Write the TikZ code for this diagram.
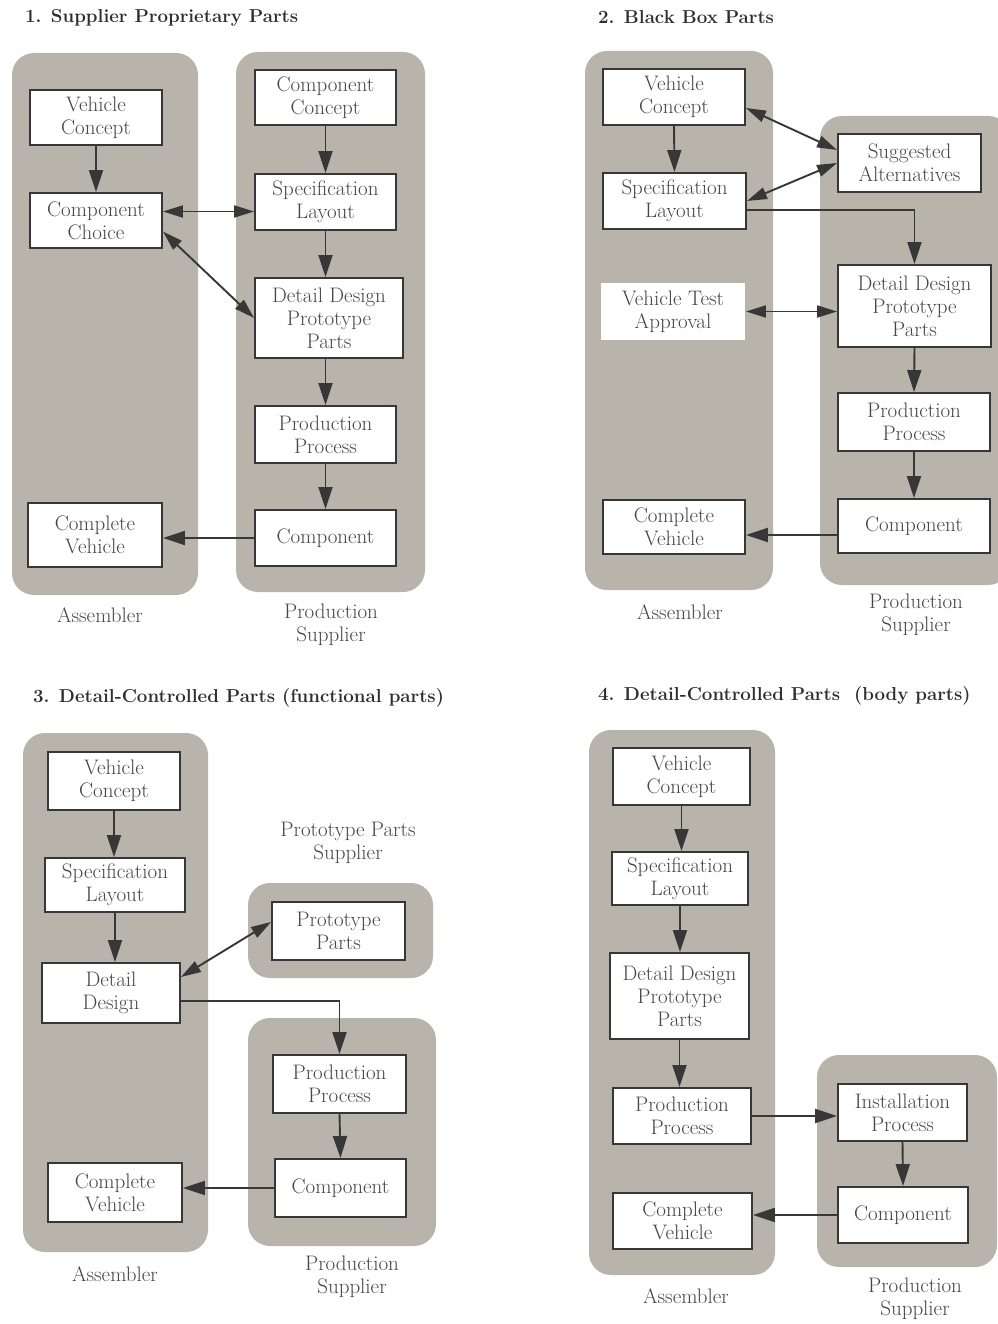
\documentclass[tikz,border=0pt]{standalone}
\usetikzlibrary{arrows.meta,calc}
\definecolor{panelgray}{RGB}{184,180,171}
\definecolor{ink}{RGB}{55,55,55}
\definecolor{txt}{RGB}{70,70,70}
\tikzset{
  panel/.style={fill=panelgray, rounded corners=22pt},
  blk/.style={draw=ink, line width=1.9pt, fill=white, inner sep=0pt, align=center,
    text=txt, font=\fontsize{21}{23}\selectfont},
  flow/.style={draw=ink, line width=1.9pt, -{Triangle[length=22pt,width=14pt]}},
  dflow/.style={draw=ink, line width=1.9pt,
    {Triangle[length=20pt,width=12pt]}-{Triangle[length=20pt,width=12pt]}},
  lbl/.style={align=center, text=txt, inner sep=0pt, font=\fontsize{21}{23}\selectfont},
  ttl/.style={anchor=west, inner sep=0pt, text=black!82,
    font=\fontsize{18.7}{20}\selectfont\bfseries},
}
% box given by its corners: name, x1, y1, x2, y2, text
\newcommand{\procbox}[7][]{%
  \node[blk,#1,minimum width={(#5-#3)*1pt},minimum height={(#6-#4)*1pt}]
    (#2) at ({(#3+#5)/2},{(#4+#6)/2}) {#7};}
\begin{document}
\begin{tikzpicture}[x=1pt,y=-1pt]
\useasboundingbox (0,0) rectangle (997,1324);
\fill[white] (0,0) rectangle (997,1324);

% ---------- 1. Supplier Proprietary Parts ----------
\node[ttl] (t1) at (25,18) {1. Supplier Proprietary Parts};
\fill[panel] (12,53) rectangle (198,595);
\fill[panel] (236,52) rectangle (425,592);
\procbox{p1vc}{30}{90}{162}{145}{Vehicle\\Concept}
\procbox{p1cc}{30}{193}{162}{248}{Component\\Choice}
\procbox{p1cv}{28}{503}{162}{567}{Complete\\Vehicle}
\procbox{p1ccon}{255}{70}{396}{125}{Component\\Concept}
\procbox{p1sl}{255}{174}{396}{230}{Specification\\Layout}
\procbox{p1dd}{255}{278}{403}{358}{Detail Design\\Prototype\\Parts}
\procbox{p1pp}{255}{406}{396}{463}{Production\\Process}
\procbox{p1comp}{255}{510}{396}{566}{Component}
\node[lbl] (p1a) at (100,615) {Assembler};
\node[lbl] (p1s) at (331,625) {Production\\Supplier};

\draw[flow] (p1vc.south) -- (p1cc.north);
\draw[flow] (p1ccon.south) -- (p1sl.north);
\draw[flow] (p1sl.south) -- (p1sl.south |- p1dd.north);
\draw[flow] (p1pp.north |- p1dd.south) -- (p1pp.north);
\draw[flow] (p1pp.south) -- (p1comp.north);
\draw[dflow] ([yshift=9pt]p1cc.east) -- ([yshift=9pt]p1cc.east -| p1sl.west);
\draw[dflow] ([yshift=-11pt]p1cc.east) -- (p1dd.west);
\draw[flow] (p1comp.west) -- (p1cv.east |- p1comp.west);

% ---------- 2. Black Box Parts ----------
\node[ttl] (t2) at (598,17) {2. Black Box Parts};
\fill[panel] (585,51) rectangle (773,590);
\fill[panel] (820,116) rectangle (1010,585);
\procbox{p2vc}{603}{69}{745}{125}{Vehicle\\Concept}
\procbox{p2sl}{603}{173}{746}{229}{Specification\\Layout}
\procbox[draw=none]{p2vta}{601}{283}{745}{340}{Vehicle Test\\Approval}
\procbox{p2cv}{603}{500}{745}{554}{Complete\\Vehicle}
\procbox{p2sa}{838}{134}{981}{192}{Suggested\\Alternatives}
\procbox{p2dd}{838}{265}{991}{347}{Detail Design\\Prototype\\Parts}
\procbox{p2pp}{838}{393}{990}{451}{Production\\Process}
\procbox{p2comp}{838}{499}{990}{553}{Component}
\node[lbl] (p2a) at (680,612) {Assembler};
\node[lbl] (p2s) at (916,615) {Production\\Supplier};

\draw[flow] (p2vc.south) -- (p2sl.north);
\draw[dflow] ([yshift=-11pt]p2vc.east) -- ([yshift=13pt]p2sa.west);
\draw[dflow] (p2sl.east) -- (p2sa.west);
\draw[flow] ([yshift=-9pt]p2sl.east) -| (p2dd.north);
\draw[dflow] (p2vta.east) -- (p2dd.west |- p2vta.east);
\draw[flow] (p2dd.south) -- (p2pp.north);
\draw[flow] (p2pp.south) -- (p2comp.north);
\coordinate (p2r) at ([yshift=-9pt]p2comp.west);
\draw[flow] (p2r) -- (p2cv.east |- p2r);

% ---------- 3. Detail-Controlled Parts (functional parts) ----------
\node[ttl] (t3) at (33,698) {3. Detail-Controlled Parts (functional parts)};
\fill[panel] (23,733) rectangle (208,1252);
\fill[panel] (248,883) rectangle (433,978);
\fill[panel] (248,1018) rectangle (436,1246);
\procbox{p3vc}{48}{752}{180}{810}{Vehicle\\Concept}
\procbox{p3sl}{45}{858}{185}{912}{Specification\\Layout}
\procbox{p3dd}{42}{963}{180}{1023}{Detail\\Design}
\procbox{p3cv}{48}{1163}{182}{1222}{Complete\\Vehicle}
\procbox{p3ptp}{272}{902}{405}{960}{Prototype\\Parts}
\procbox{p3pp}{273}{1055}{406}{1113}{Production\\Process}
\procbox{p3comp}{275}{1159}{406}{1217}{Component}
\node[lbl] (p3t) at (348,843) {Prototype Parts\\Supplier};
\node[lbl] (p3a) at (115,1274) {Assembler};
\node[lbl] (p3s) at (352,1277) {Production\\Supplier};

\draw[flow] (p3vc.south) -- (p3vc.south |- p3sl.north);
\draw[flow] (p3sl.south) -- (p3sl.south |- p3dd.north);
\draw[dflow] ([yshift=16pt]p3dd.east) -- ([yshift=9pt]p3ptp.west);
\draw[flow] ([yshift=-8pt]p3dd.east) -| (p3pp.north);
\draw[flow] (p3pp.south) -- (p3comp.north);
\draw[flow] (p3comp.west) -- (p3cv.east |- p3comp.west);

% ---------- 4. Detail-Controlled Parts (body parts) ----------
\node[ttl] (t4) at (598,696) {4. Detail-Controlled Parts\ \ (body parts)};
\fill[panel] (589,730) rectangle (775,1275);
\fill[panel] (817,1055) rectangle (997,1267);
\procbox{p4vc}{613}{748}{750}{805}{Vehicle\\Concept}
\procbox{p4sl}{612}{852}{748}{905}{Specification\\Layout}
\procbox{p4dd}{610}{953}{749}{1039}{Detail Design\\Prototype\\Parts}
\procbox{p4pp}{613}{1088}{751}{1144}{Production\\Process}
\procbox{p4cv}{613}{1193}{752}{1249}{Complete\\Vehicle}
\procbox{p4ip}{838}{1084}{967}{1141}{Installation\\Process}
\procbox{p4comp}{838}{1187}{968}{1243}{Component}
\node[lbl] (p4a) at (686,1296) {Assembler};
\node[lbl] (p4s) at (915,1299) {Production\\Supplier};

\draw[flow] (p4vc.south) -- (p4vc.south |- p4sl.north);
\draw[flow] (p4sl.south) -- (p4sl.south |- p4dd.north);
\draw[flow] (p4dd.south) -- (p4dd.south |- p4pp.north);
\draw[flow] (p4pp.east) -- (p4ip.west |- p4pp.east);
\draw[flow] (p4ip.south) -- (p4comp.north);
\draw[flow] (p4comp.west) -- (p4cv.east |- p4comp.west);
\end{tikzpicture}
\end{document}
